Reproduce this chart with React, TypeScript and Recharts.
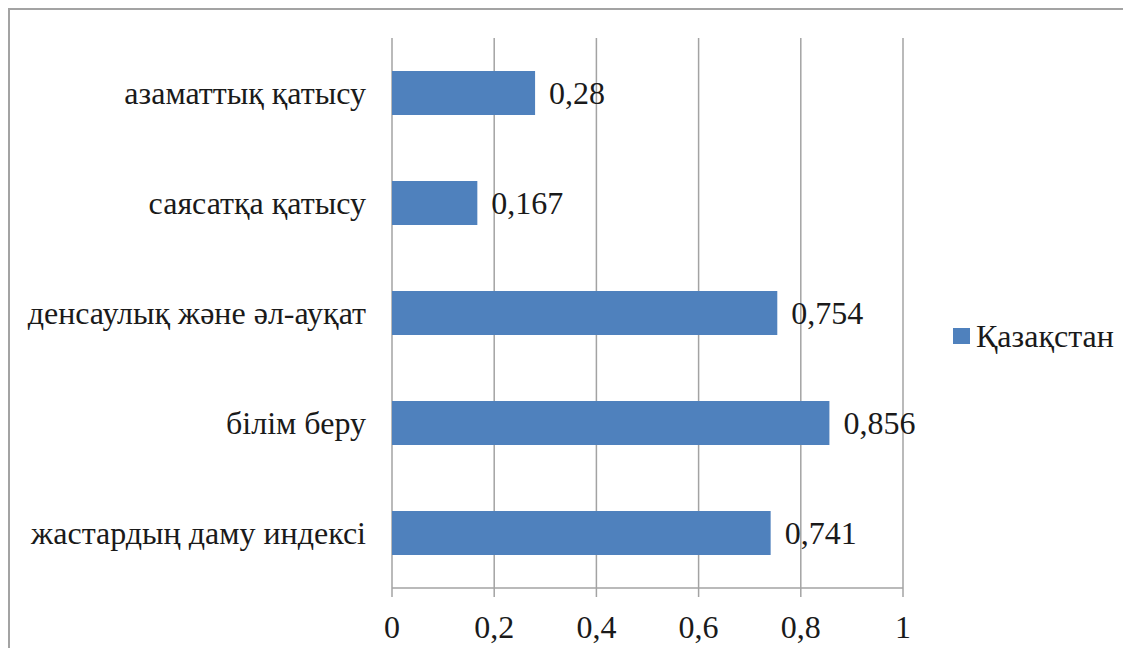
import { Bar, BarChart, CartesianGrid, LabelList, Legend, XAxis, YAxis } from 'recharts';

// Kazakhstan youth development index components
const categories = [
  'азаматтық қатысу',
  'саясатқа қатысу',
  'денсаулық және әл-ауқат',
  'білім беру',
  'жастардың даму индексі',
];
const values = [0.28, 0.167, 0.754, 0.856, 0.741];
const xTicks = [0, 0.2, 0.4, 0.6, 0.8, 1];
const edgeTicks = [0, 1, 2, 3, 4, 5];
const seriesName = 'Қазақстан';

const FONT = '"Liberation Serif", "Tinos", "Times New Roman", serif';
const BAR = '#4f81bd';
const LINE = '#a3a3a3';
const TEXT = '#1a1a1a';
const FS = 32;

const rows = categories.map((name, i) => ({ name, value: values[i] }));
const fmt = (v: number | string) => String(v).replace('.', ',');

function LegendBox() {
  return (
    <div style={{ display: 'flex', alignItems: 'center', fontFamily: FONT, fontSize: FS, color: TEXT, lineHeight: '34px' }}>
      <span style={{ display: 'inline-block', width: 17, height: 16, background: BAR, marginRight: 6 }} />
      <span>{seriesName}</span>
    </div>
  );
}

export default function App() {
  return (
    <div
      style={{
        width: 1123,
        height: 640,
        boxSizing: 'border-box',
        borderTop: `2px solid ${LINE}`,
        borderLeft: `2px solid ${LINE}`,
        overflow: 'hidden',
        background: '#fff',
        fontFamily: FONT,
      }}
    >
      <BarChart
        width={1121}
        height={638}
        data={rows}
        layout="vertical"
        margin={{ top: 28, right: 228, left: 0, bottom: 10 }}
        barSize={44}
        style={{ fontFamily: FONT }}
      >
        <CartesianGrid horizontal={false} stroke={LINE} strokeWidth={1.5} />
        <XAxis
          type="number"
          domain={[0, 1]}
          ticks={xTicks}
          height={50}
          tickFormatter={fmt}
          tickSize={9}
          tickMargin={18}
          axisLine={{ stroke: LINE, strokeWidth: 1.5 }}
          tickLine={{ stroke: LINE, strokeWidth: 1.5 }}
          tick={{ fontFamily: FONT, fontSize: FS, fill: TEXT }}
        />
        <YAxis
          yAxisId="edge"
          type="number"
          domain={[0, 5]}
          ticks={edgeTicks}
          allowDataOverflow
          width={0}
          tick={false}
          tickSize={10}
          axisLine={{ stroke: LINE, strokeWidth: 1.5 }}
          tickLine={{ stroke: LINE, strokeWidth: 1.5 }}
        />
        <YAxis
          yAxisId="cat"
          type="category"
          dataKey="name"
          width={382}
          interval={0}
          axisLine={false}
          tickLine={false}
          tickSize={0}
          tickMargin={26}
          tick={{ fontFamily: FONT, fontSize: FS, fill: TEXT }}
        />
        <Legend
          layout="horizontal"
          align="center"
          verticalAlign="middle"
          wrapperStyle={{ left: 943, top: 309, width: 'auto', height: 'auto' }}
          content={() => <LegendBox />}
        />
        <Bar yAxisId="cat" dataKey="value" name={seriesName} fill={BAR} isAnimationActive={false}>
          <LabelList
            dataKey="value"
            position="right"
            offset={14}
            formatter={(v: any) => fmt(v)}
            style={{ fontFamily: FONT, fontSize: FS, fill: TEXT }}
          />
        </Bar>
      </BarChart>
    </div>
  );
}
